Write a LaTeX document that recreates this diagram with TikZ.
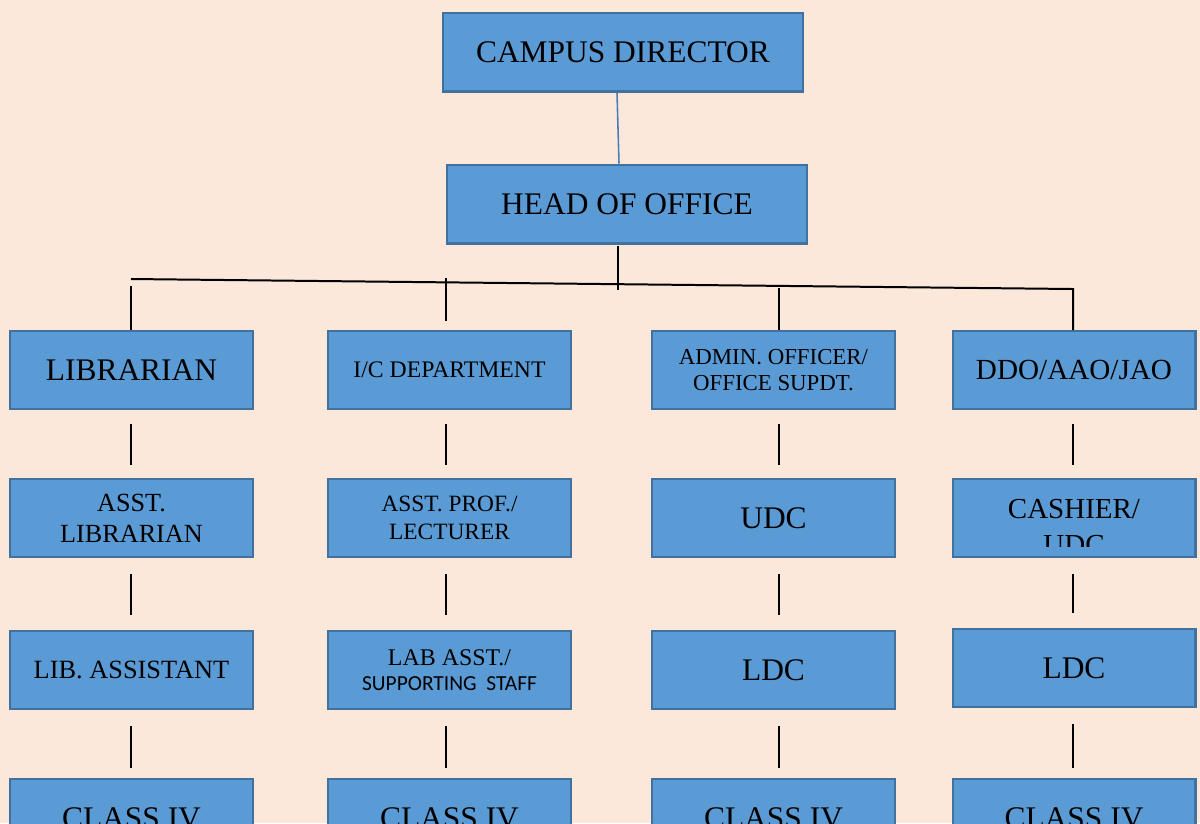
\documentclass[tikz,border=0pt]{standalone}
\usepackage{fontspec}
\setmainfont{Liberation Serif}
\newfontfamily\calib{Carlito}
\usetikzlibrary{calc}
\definecolor{bg}{HTML}{FCE8DA}
\definecolor{boxfill}{HTML}{5B9BD5}
\definecolor{boxline}{HTML}{41719C}
\definecolor{blueline}{HTML}{4A7EBB}
\tikzset{
  box/.style={draw=boxline, fill=boxfill, line width=1.15pt, minimum width=4.86cm,
    minimum height=1.56cm, inner sep=0pt, align=center, text=black},
  bigbox/.style={box, minimum width=7.22cm, minimum height=1.58cm},
  link/.style={draw=black, line width=1.134pt},
  fbig/.style={font={\fontsize{17.9pt}{20pt}\selectfont}},
  fmid/.style={font={\fontsize{13.5pt}{15.1pt}\selectfont}},
}
\begin{document}
\begin{tikzpicture}[x=0.02cm,y=-0.02cm]
\clip (0,0) rectangle (1200,823);
\fill[bg] (0,0) rectangle (1200,823);

% top
\node[bigbox,fbig] (cd) at (623,52) {CAMPUS DIRECTOR};
\node[bigbox,fbig] (ho) at (627,204) {HEAD OF OFFICE};

% row 1
\node[box,fbig] (n11) at (131.5,370) {LIBRARIAN};
\node[box,fmid] (n21) at (449.5,370) {I/C DEPARTMENT};
\node[box,font={\fontsize{13pt}{15.1pt}\selectfont}] (n31) at (773.5,370) {ADMIN. OFFICER/\\OFFICE SUPDT.};
\node[box,font={\fontsize{16.6pt}{19pt}\selectfont}] (n41) at (1074,370) {DDO/AAO/JAO};

% row 2
\node[box,font={\fontsize{14.9pt}{17.6pt}\selectfont}] (n12) at (131.5,518) {ASST.\\LIBRARIAN};
\node[box,font={\fontsize{13.3pt}{15.7pt}\selectfont}] (n22) at (449.5,518) {ASST. PROF./\\LECTURER};
\node[box,fbig] (n32) at (773.5,518) {UDC};
\node[box] (n42) at (1074,518) {};
\begin{scope}
  \clip (952,479) rectangle (1196,546);
  \node[anchor=base,inner sep=0pt,font={\fontsize{16.5pt}{20pt}\selectfont}] (cash) at (1074,518) {CASHIER/};
  \node[anchor=base,inner sep=0pt,font={\fontsize{16.5pt}{20pt}\selectfont}] (cashudc) at (1074,554) {UDC};
\end{scope}

% row 3
\node[box,font={\fontsize{15pt}{17pt}\selectfont}] (n13) at (131.5,670) {LIB. ASSISTANT};
\node[box,font={\fontsize{13.6pt}{14.5pt}\selectfont}] (n23) at (449.5,670) {LAB ASST./\\{\calib\fontsize{12.2pt}{14.5pt}\selectfont SUPPORTING\ \ STAFF}};
\node[box,fbig] (n33) at (773.5,670) {LDC};
\node[box,fbig] (n43) at (1074,668) {LDC};

% row 4
\node[box,fbig] (n14) at (131.5,818) {CLASS IV};
\node[box,fbig] (n24) at (449.5,818) {CLASS IV};
\node[box,fbig] (n34) at (773.5,818) {CLASS IV};
\node[box,fbig] (n44) at (1074,818) {CLASS IV};

% connectors top
\draw[blueline, line width=0.9pt] ($(cd.south)+(-6,0)$) -- ($(ho.north)+(-8,0)$);
\draw[link] ($(ho.south)+(-9,1)$) -- ($(ho.south)+(-9,45)$);
\coordinate (hl) at (131,279);
\coordinate (hr) at (1073,289);
\draw[link] (hl) -- (hr) -- (hr |- n41.north);
\draw[link] ($(n11.north)+(-0.5,-44)$) -- ($(n11.north)+(-0.5,0)$);
\draw[link] ($(n21.north)+(-3.5,-52)$) -- ($(n21.north)+(-3.5,-9)$);
\draw[link] ($(n31.north)+(5.5,-42)$) -- ($(n31.north)+(5.5,0)$);

% column connectors
\foreach \c/\dx in {1/-0.5,2/-3.5,3/5.5,4/-1}{
  \draw[link] ($(n\c1.south)+(\dx,14)$) -- ($(n\c2.north)+(\dx,-13)$);
  \draw[link] ($(n\c2.south)+(\dx,16)$) -- ($(n\c3.north)+(\dx,-15)$);
  \draw[link] ($(n\c3.south)+(\dx,16)$) -- ($(n\c4.north)+(\dx,-10)$);
}
\end{tikzpicture}
\end{document}
